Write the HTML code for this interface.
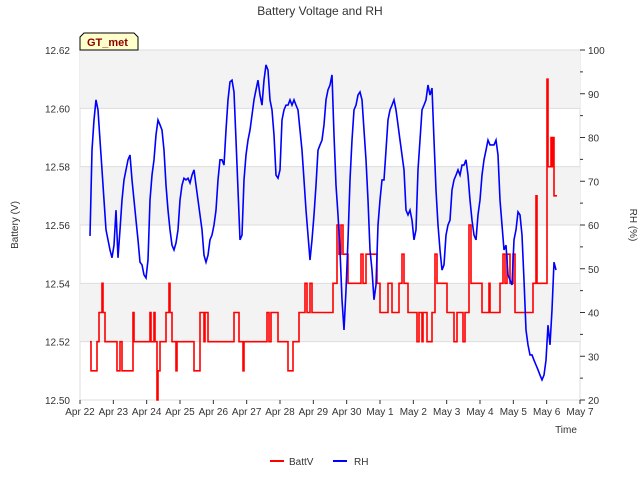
<!DOCTYPE html>
<html><head><meta charset="utf-8"><style>
body{margin:0;background:#fff;font-family:"Liberation Sans",sans-serif}
svg text{font-family:"Liberation Sans",sans-serif}
</style></head><body>
<svg id="c" width="640" height="480"></svg>
<script>
const battT=[0.30,0.33,0.51,0.57,0.66,0.69,0.75,1.11,1.20,1.26,1.59,1.62,2.10,2.13,2.22,2.25,2.31,2.34,2.40,2.58,2.67,2.70,2.76,2.88,2.91,3.42,3.60,3.72,3.75,3.84,4.62,4.77,4.89,4.92,5.61,5.67,5.73,5.94,6.24,6.39,6.57,6.75,6.81,6.90,6.96,7.14,7.59,7.71,7.77,7.83,7.89,7.95,8.04,8.43,8.49,8.58,8.91,9.00,9.24,9.36,9.57,9.66,9.72,9.84,10.11,10.17,10.26,10.29,10.41,10.56,10.65,10.71,11.01,11.22,11.31,11.49,11.55,11.67,11.73,12.06,12.27,12.30,12.60,12.69,12.75,12.81,12.90,12.99,13.05,13.59,13.68,13.71,14.01,14.04,14.13,14.16,14.19,14.22,14.31];
const battV=[12.52,12.51,12.52,12.53,12.54,12.53,12.52,12.51,12.52,12.51,12.53,12.52,12.53,12.52,12.53,12.52,12.50,12.51,12.52,12.53,12.54,12.53,12.52,12.51,12.52,12.51,12.53,12.52,12.53,12.52,12.53,12.52,12.51,12.52,12.53,12.52,12.53,12.52,12.51,12.52,12.53,12.54,12.53,12.54,12.53,12.53,12.54,12.56,12.55,12.56,12.55,12.55,12.54,12.55,12.54,12.55,12.54,12.53,12.54,12.53,12.54,12.55,12.54,12.53,12.52,12.53,12.52,12.53,12.52,12.53,12.55,12.54,12.53,12.52,12.53,12.52,12.53,12.56,12.54,12.53,12.54,12.53,12.54,12.55,12.54,12.55,12.54,12.55,12.53,12.54,12.57,12.54,12.61,12.58,12.59,12.58,12.59,12.57,12.57];
const rhStart=0.30, rhStep=0.06;
const rhV=[57.5,77.1,84,88.6,86.3,79.4,72.6,65.7,58.9,56.6,54.3,52.5,55.4,63.4,52.5,58.9,65.7,70.3,72.6,74.9,76,70.3,65.7,61.1,56.6,51.5,50.9,48.6,47.9,52,65.7,71.4,74.9,80.6,84,82.9,81.7,77.1,69.1,63.4,58.9,55.4,54.3,55.9,58.9,65.7,69.1,70.7,70.3,70.7,69.6,71.4,72.6,69.1,65.7,62.3,58.9,53.1,51.5,53.1,56.6,57.7,60,63.4,70.3,74.9,74.9,73.7,81.7,88.6,92.7,93.1,90.4,79.4,68,56.6,57.7,70.3,76,79.4,81.7,85.1,88.6,90.9,93.1,89.7,87.4,93.1,96.6,95.4,88.6,86.3,80.6,71.4,70.7,72.6,84,86.3,87.4,87.4,88.6,87.4,88.6,87.4,86.3,81.7,77.1,70.3,63.4,57.7,52,56.6,62.3,69.1,77.1,78.3,79.4,82.9,88.6,90.9,92,94.3,80.6,69.1,62.3,54.3,42.9,36,45.1,56.6,70.3,79.4,86.3,87.4,89.7,90.4,88.6,81.7,74.9,65.7,54.3,49.7,42.9,46.3,60,65.7,70.3,70.3,77.1,84,86.3,87.4,88.6,86.3,82.9,79.4,76,72.6,63.4,62.3,63.4,61.1,56.6,58.9,72.6,79.4,86.3,87.4,88.6,92,89.7,91.3,79.4,68,60,54.3,49.7,50.9,57.7,60,61.1,68,70.3,71.4,72.6,71.4,73.7,73.7,74.9,71.4,65.7,61.1,57.7,56.6,62.3,65.7,71.4,74.9,77.1,79.4,78.3,78.3,78.3,79.4,76,65.7,60,54.3,55.4,48.6,47.4,46.3,56.6,58.9,63,62.3,57.7,47.4,36,32.6,30.3,30.3,29.1,28,26.9,25.7,24.6,25.7,29.1,37.1,32.6,40.6,51.5,49.7];
const xTicks=["Apr 22","Apr 23","Apr 24","Apr 25","Apr 26","Apr 27","Apr 28","Apr 29","Apr 30","May 1","May 2","May 3","May 4","May 5","May 6","May 7"];
const yLTicks=[12.50,12.52,12.54,12.56,12.58,12.60,12.62];
const yRTicks=[20,30,40,50,60,70,80,90,100];

const L=80,R=580,T=50,B=400;
const X=d=>L+(d/15)*(R-L);
const YL=v=>B-(v-12.50)/0.12*(B-T);
const YR=v=>B-(v-20)/80*(B-T);
const s=document.getElementById('c');const NS="http://www.w3.org/2000/svg";
function el(t,a,p){const e=document.createElementNS(NS,t);for(const k in a)e.setAttribute(k,a[k]);(p||s).appendChild(e);return e;}
el('rect',{x:L,y:T,width:R-L,height:B-T,fill:'#fff',stroke:'#ddd'});
for(let i=0;i<yLTicks.length-1;i+=2){
 const b=el('rect',{x:L,y:YL(yLTicks[i+1]+0.02),width:R-L,height:YL(yLTicks[i+1])-YL(yLTicks[i+1]+0.02),fill:'#f3f3f3'});
 
}
yLTicks.forEach(v=>{el('line',{x1:L,x2:R,y1:YL(v),y2:YL(v),stroke:'#ddd'});
 const t=el('text',{x:L-10,y:YL(v)+4,'text-anchor':'end','font-size':10,fill:'#333'});t.textContent=v.toFixed(2);
 });
yRTicks.forEach(v=>{el('line',{x1:R,x2:R+5,y1:YR(v),y2:YR(v),stroke:'#333'});
 const t=el('text',{x:R+8,y:YR(v)+4,'font-size':10,fill:'#333'});t.textContent=v;
 });
for(let v=25;v<100;v+=10)el('line',{x1:R,x2:R+3,y1:YR(v),y2:YR(v),stroke:'#333'});
xTicks.forEach((lab,i)=>{el('line',{x1:X(i),x2:X(i),y1:B,y2:B+4,stroke:'#333'});
 const t=el('text',{x:X(i),y:B+15,'text-anchor':'middle','font-size':10,fill:'#333'});t.textContent=lab;
 });
let p='';battT.forEach((d,i)=>{const y=YL(battV[i]);p+=(i?'L':'M')+X(d)+','+(i?YL(battV[i-1]):y)+'L'+X(d)+','+y;});
const bl=el('path',{d:p,fill:'none',stroke:'#f00','stroke-width':1.6});

p='';rhV.forEach((v,i)=>{p+=(i?'L':'M')+X(rhStart+i*rhStep)+','+YR(v);});
const rl=el('path',{d:p,fill:'none',stroke:'#00f','stroke-width':1.6});

function tx(x,y,str,a,name){const t=el('text',Object.assign({x:x,y:y,fill:'#333'},a));t.textContent=str;
 return t;}
tx(320,15,'Battery Voltage and RH',{'text-anchor':'middle','font-size':12},'chart-title');
tx(566,433,'Time',{'text-anchor':'middle','font-size':10},'x-axis-title');
tx(18,225,'Battery (V)',{'text-anchor':'middle','font-size':10,transform:'rotate(-90 18 225)'},'y-left-title');
tx(630,225,'RH (%)',{'text-anchor':'middle','font-size':10,transform:'rotate(90 630 225)'},'y-right-title');
const g=el('g',{});
el('path',{d:'M80,50 L80,37 L84,33 L134,33 L138,37 L138,50 Z',fill:'#ffffcc',stroke:'#000'},g);
const gt=el('text',{x:87,y:46,'font-size':11,'font-weight':'bold',fill:'#8b0000'},g);gt.textContent='GT_met';
el('line',{x1:270,x2:284,y1:461,y2:461,stroke:'#f00','stroke-width':2});
tx(289,465,'BattV',{'font-size':10},'legend-battv');
el('line',{x1:333,x2:347,y1:461,y2:461,stroke:'#00f','stroke-width':2});
tx(354,465,'RH',{'font-size':10},'legend-rh');
</script>
</body></html>
